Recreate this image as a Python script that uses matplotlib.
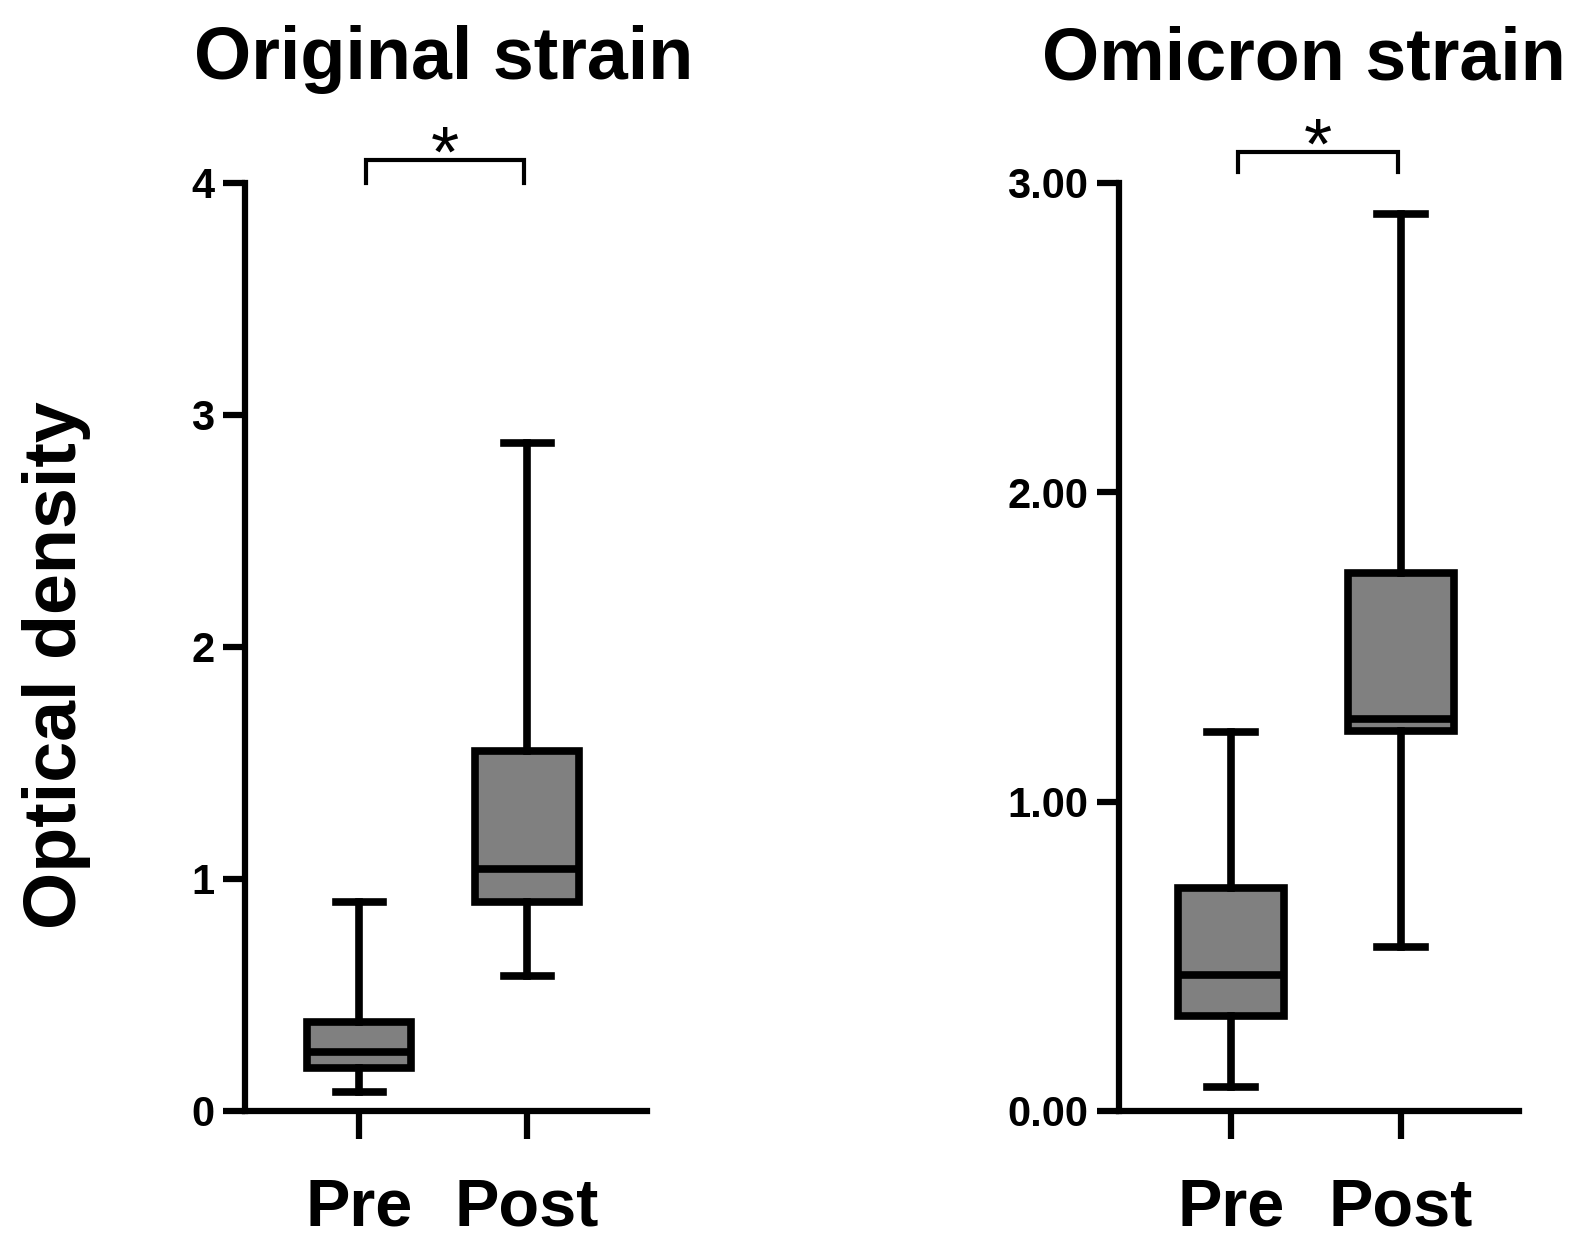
import numpy as np
import matplotlib
matplotlib.use("Agg")
import matplotlib.pyplot as plt

plt.rcParams['font.family'] = ['Liberation Sans', 'DejaVu Sans']

# dane (min, Q1, mediana, Q3, max)
groups = ["Pre", "Post"]

orig_low = [0.08, 0.58]
orig_q1 = [0.185, 0.90]
orig_med = [0.255, 1.045]
orig_q3 = [0.385, 1.55]
orig_high = [0.90, 2.88]

omi_low = [0.077, 0.53]
omi_q1 = [0.307, 1.23]
omi_med = [0.44, 1.268]
omi_q3 = [0.72, 1.74]
omi_high = [1.225, 2.90]

orig_ticks = [0, 1, 2, 3, 4]
omi_ticks = [0, 1, 2, 3]

LW = 5.5
GRAY = '#808080'


def make_stats(low, q1, med, q3, high):
    stats = []
    for i in range(len(low)):
        stats.append({'whislo': low[i], 'q1': q1[i], 'med': med[i],
                      'q3': q3[i], 'whishi': high[i], 'fliers': []})
    return stats


def draw_panel(ax, stats, ticks, fmt, ymax, xlim, br_lo, br_hi):
    pos = np.arange(1, len(groups) + 1)
    ax.bxp(stats, positions=pos, widths=0.62, capwidths=0.28,
           patch_artist=True, showfliers=False,
           boxprops=dict(facecolor=GRAY, edgecolor='black', linewidth=LW),
           medianprops=dict(color='black', linewidth=LW),
           whiskerprops=dict(color='black', linewidth=LW),
           capprops=dict(color='black', linewidth=LW))
    ax.set_ylim(0, ymax)
    ax.set_xlim(*xlim)
    ax.set_yticks(ticks)
    ax.set_yticklabels([fmt.format(t) for t in ticks], fontsize=30, fontweight='bold')
    ax.set_xticks(pos)
    ax.set_xticklabels(groups, fontsize=48, fontweight='bold')
    ax.spines['top'].set_visible(False)
    ax.spines['right'].set_visible(False)
    ax.spines['left'].set_linewidth(4.5)
    ax.spines['bottom'].set_linewidth(4.5)
    ax.tick_params(axis='y', length=16, width=4.5, pad=6)
    ax.tick_params(axis='x', length=20, width=4.5, pad=28)
    # klamra z gwiazdka
    x0, x1 = pos[0] + 0.04, pos[1] - 0.02
    ax.plot([x0, x0, x1, x1], [br_lo, br_hi, br_hi, br_lo],
            color='black', linewidth=3, clip_on=False, solid_joinstyle='miter')
    ax.annotate('*', xy=((x0 + x1) / 2, br_hi), xytext=(0, -12), textcoords='offset points',
                ha='center', va='baseline', fontsize=52, annotation_clip=False)


fig = plt.figure(figsize=(15.84, 12.5), dpi=100)
ax1 = fig.add_axes([0.1547, 0.1112, 0.2538, 0.7424])
ax2 = fig.add_axes([0.7064, 0.1112, 0.2525, 0.7424])

draw_panel(ax1, make_stats(orig_low, orig_q1, orig_med, orig_q3, orig_high),
           orig_ticks, '{:d}', 4, (0.321, 2.714), 4.0, 4.10)
draw_panel(ax2, make_stats(omi_low, omi_q1, omi_med, omi_q3, omi_high),
           omi_ticks, '{:.2f}', 3, (0.341, 2.694), 3.035, 3.10)

fig.text(0.2803, 0.9368, 'Original strain', ha='center', va='baseline',
         fontsize=53, fontweight='bold')
fig.text(0.8232, 0.9368, 'Omicron strain', ha='center', va='baseline',
         fontsize=53, fontweight='bold')
fig.text(0.0354, 0.468, 'Optical density', rotation=90, ha='center', va='center',
         fontsize=53, fontweight='bold')

plt.savefig('out.png', dpi=100)
